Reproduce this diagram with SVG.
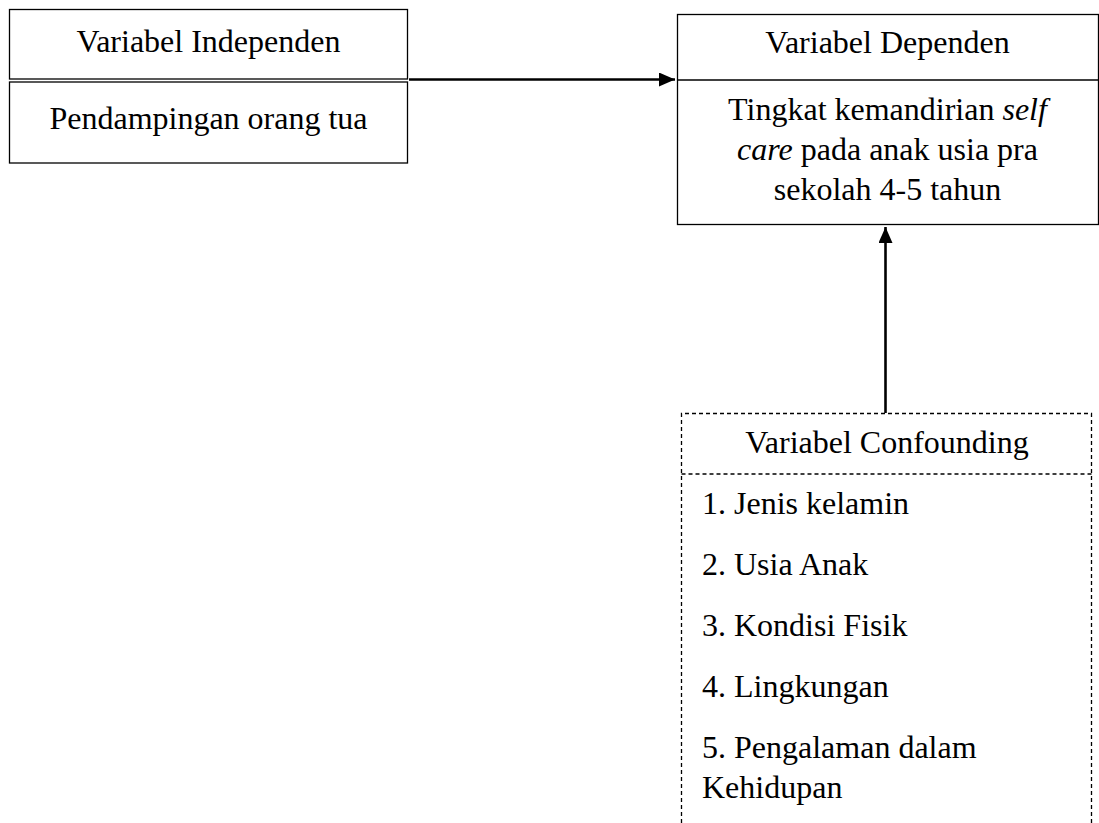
<svg xmlns="http://www.w3.org/2000/svg" width="1099" height="823" viewBox="0 0 1099 823">
  <style>
    .t { font-family: 'Times New Roman', 'Liberation Serif', Times, serif; font-size: 32px; fill: #000; }
    .c { text-anchor: middle; }
    .box { fill: #fff; stroke: #000; stroke-width: 1.3; }
    .dash { fill: none; stroke: #000; stroke-width: 1.3; stroke-dasharray: 4 3; }
    .conn { stroke: #000; stroke-width: 2.6; fill: none; }
  </style>
  <defs>
    <marker id="arr" viewBox="0 0 16 14" refX="16" refY="7" markerWidth="16" markerHeight="14" markerUnits="userSpaceOnUse" orient="auto">
      <path d="M0,0 L16,7 L0,14 Z" fill="#000"/>
    </marker>
  </defs>
  <rect width="1099" height="823" fill="#fff"/>

  <g id="independen">
    <rect class="box" x="9.5" y="9.5" width="398" height="69.5"/>
    <rect class="box" x="9.5" y="82" width="398" height="81"/>
    <text class="t c" x="208.5" y="52">Variabel Independen</text>
    <text class="t c" x="208.5" y="129">Pendampingan orang tua</text>
  </g>

  <g id="dependen">
    <rect class="box" x="677.5" y="14.5" width="421" height="210"/>
    <line x1="677.5" y1="80" x2="1098.5" y2="80" stroke="#000" stroke-width="1.3"/>
    <text class="t c" x="887.5" y="53">Variabel Dependen</text>
    <text class="t c" x="887.5" y="120">Tingkat kemandirian <tspan font-style="italic">self</tspan></text>
    <text class="t c" x="887.5" y="160"><tspan font-style="italic">care</tspan> pada anak usia pra</text>
    <text class="t c" x="887.5" y="200">sekolah 4-5 tahun</text>
  </g>

  <g id="confounding">
    <path class="dash" d="M681.5,830 L681.5,413.5 L1091.5,413.5 L1091.5,830"/>
    <line class="dash" x1="681.5" y1="474" x2="1091.5" y2="474"/>
    <text class="t c" x="887" y="453">Variabel Confounding</text>
    <text class="t" x="702" y="514">1. Jenis kelamin</text>
    <text class="t" x="702" y="575">2. Usia Anak</text>
    <text class="t" x="702" y="636">3. Kondisi Fisik</text>
    <text class="t" x="702" y="697">4. Lingkungan</text>
    <text class="t" x="702" y="758">5. Pengalaman dalam</text>
    <text class="t" x="702" y="798">Kehidupan</text>
  </g>

  <g id="connectors">
    <line class="conn" x1="409" y1="79.5" x2="675" y2="79.5" marker-end="url(#arr)"/>
    <line class="conn" x1="885.5" y1="413" x2="885.5" y2="227" marker-end="url(#arr)"/>
  </g>
</svg>
